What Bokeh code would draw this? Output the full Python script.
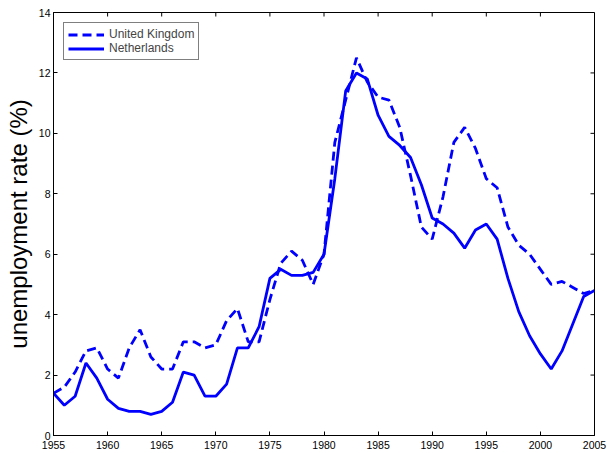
import math
from bokeh.plotting import figure
from bokeh.models import Range1d, FixedTicker
from bokeh.embed import file_html
from bokeh.resources import INLINE

years = list(range(1955, 2006))
uk = [1.4, 1.6, 2.1, 2.8, 2.9, 2.2, 1.9, 2.9, 3.5, 2.6,
      2.2, 2.2, 3.1, 3.1, 2.9, 3.0, 3.8, 4.2, 3.1, 3.1,
      4.5, 5.7, 6.1, 5.8, 5.0, 6.0, 9.7, 11.1, 12.5, 11.7,
      11.2, 11.1, 10.2, 8.6, 6.9, 6.5, 7.9, 9.7, 10.2, 9.5,
      8.5, 8.2, 6.9, 6.3, 6.0, 5.5, 5.0, 5.1, 4.9, 4.7, 4.8]
nl = [1.4, 1.0, 1.3, 2.4, 1.9, 1.2, 0.9, 0.8, 0.8, 0.7,
      0.8, 1.1, 2.1, 2.0, 1.3, 1.3, 1.7, 2.9, 2.9, 3.6,
      5.2, 5.5, 5.3, 5.3, 5.4, 6.0, 8.5, 11.4, 12.0, 11.8,
      10.6, 9.9, 9.6, 9.2, 8.3, 7.2, 7.0, 6.7, 6.2, 6.8,
      7.0, 6.5, 5.2, 4.1, 3.3, 2.7, 2.2, 2.8, 3.7, 4.6, 4.8]
x_ticks = list(range(1955, 2006, 5))
y_ticks = list(range(0, 15, 2))
labels = ["United Kingdom", "Netherlands"]
x_min, x_max = 1955, 2005
y_min, y_max = 0, 14

FONT = "Liberation Sans"

p = figure(width=607, height=453, output_backend="svg", toolbar_location=None,
           x_range=Range1d(x_min, x_max), y_range=Range1d(y_min, y_max),
           min_border_left=53, min_border_right=13, min_border_top=12,
           min_border_bottom=18)
p.background_fill_color = "white"
p.border_fill_color = "white"
p.outline_line_color = "black"
p.outline_line_width = 1
p.xgrid.visible = False
p.ygrid.visible = False

p.line(years, uk, color="#0000ff", line_width=2.8, line_dash="9 5",
       legend_label=labels[0])
p.line(years, nl, color="#0000ff", line_width=2.8, legend_label=labels[1])

# box ticks on top and right edges (MATLAB style)
p.ray(x=x_ticks, y=[y_max] * len(x_ticks), length=4, length_units="screen",
      angle=-math.pi / 2, color="black", line_width=1)
p.ray(x=[x_max] * len(y_ticks), y=y_ticks, length=4, length_units="screen",
      angle=math.pi, color="black", line_width=1)

def style(ax, ticks, standoff):
    ax.ticker = FixedTicker(ticks=ticks)
    ax.major_tick_in = 4
    ax.major_tick_out = 0
    ax.minor_tick_line_color = None
    ax.axis_line_color = "black"
    ax.major_tick_line_color = "black"
    ax.major_label_text_font = FONT
    ax.major_label_text_color = "black"
    ax.major_label_text_font_size = "10.5px"
    ax.major_label_standoff = standoff

style(p.xaxis[0], x_ticks, 5)
style(p.yaxis[0], y_ticks, 3)
p.yaxis[0].axis_label = "unemployment rate (%)"
p.yaxis[0].axis_label_text_font = FONT
p.yaxis[0].axis_label_text_font_size = "24px"
p.yaxis[0].axis_label_text_font_style = "normal"
p.yaxis[0].axis_label_text_color = "black"
p.yaxis[0].axis_label_standoff = 4

lg = p.legend[0]
lg.location = "top_left"
lg.margin = 10
lg.padding = 4
lg.spacing = 0
lg.label_text_font = FONT
lg.label_text_font_size = "12px"
lg.label_height = 13
lg.glyph_height = 13
lg.glyph_width = 36
lg.label_standoff = 5
lg.border_line_color = "black"
lg.border_line_width = 1
lg.background_fill_color = "white"
lg.background_fill_alpha = 1

open("out.html", "w").write(file_html(p, INLINE))
